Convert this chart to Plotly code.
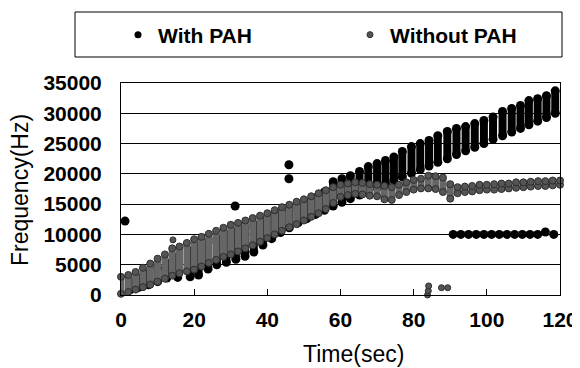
import plotly.graph_objects as go

# ---- With PAH: sweep columns (time, lowest, highest frequency) ----
with_t = [2.6, 5.0, 7.5, 10.0, 12.5, 15.5, 18.9, 21.2, 23.8, 26.2, 28.8, 31.4, 33.9, 36.3,
          38.8, 41.2, 43.6, 46.0, 48.4, 50.8, 53.2, 55.6, 58.0, 60.4, 62.7, 65.2, 67.6,
          70.0, 72.3, 74.6, 76.9, 79.4, 81.8, 84.2, 86.6, 89.2, 91.7, 94.2, 96.7, 99.2,
          101.7, 104.3, 106.8, 109.2, 111.5, 113.9, 116.3, 118.7]
with_lo = [900, 1300, 1700, 2200, 2800, 2900, 3000, 3300, 4300, 5000, 5400, 5900, 6400, 7100,
           8250, 9300, 10300, 11100, 11900, 12600, 13300, 14000, 14700, 15300, 15900, 16500,
           17100, 17700, 18300, 18900, 19500, 20100, 20700, 21300, 21900, 22500, 23200, 23800,
           24400, 25000, 25700, 26300, 26900, 27500, 28100, 28700, 29300, 30000]
with_hi = [2200, 2800, 3600, 4500, 5300, 6300, 7300, 8000, 8700, 9300, 10000, 10500, 11100,
           11700, 12300, 12900, 13500, 14100, 14700, 15300, 16000, 17000, 18700, 19200, 19700,
           20400, 21200, 21700, 22200, 22800, 23700, 24500, 25000, 25500, 26300, 27000, 27500,
           27800, 28300, 28800, 29400, 30300, 30800, 31300, 32100, 32400, 32900, 33700]
# With PAH: flat run near 10 kHz and isolated points
with_flat_t = [90.8, 92.9, 95.0, 97.1, 99.2, 101.3, 103.4, 105.5, 107.6, 109.7, 111.8,
               113.9, 116.0, 118.3]
with_flat_f = [10000, 10000, 10000, 10000, 10000, 10000, 10000, 10000, 10000, 10000, 10000,
               10000, 10400, 10000]
with_out_t = [1.1, 31.2, 45.9, 45.9]
with_out_f = [12200, 14700, 21500, 19200]

# ---- Without PAH: sweep columns ----
wo_t = [0, 2, 4, 6, 8, 10, 12, 14, 16, 18, 20, 22, 24, 26, 28, 30, 32, 34, 36, 38, 40, 42,
        44, 46, 48, 50, 52, 54, 56, 58, 60, 62, 64, 66, 68, 70, 72, 74, 76, 78, 80, 82, 84,
        86, 88, 90, 92, 94, 96, 98, 100, 102, 104, 106, 108, 110, 112, 114, 116, 118, 120]
wo_lo = [200, 500, 900, 1300, 1700, 2200, 2700, 3200, 3600, 3900, 4200, 4700, 5300, 5800,
         6300, 6700, 7200, 7700, 8200, 8800, 9400, 10000, 10600, 11200, 11700, 12300, 12900,
         13500, 14200, 15200, 16200, 16500, 16700, 16600, 16400, 16300, 15800, 15700, 16500,
         17000, 17400, 17600, 17600, 17500, 17000, 15900, 16800, 17000, 17100, 17300, 17400,
         17400, 17500, 17600, 17700, 17800, 17900, 18000, 18000, 18100, 18200]
wo_hi = [3000, 3300, 3800, 4500, 5200, 6000, 6700, 7700, 8000, 8600, 9200, 9600, 10100,
         10600, 11100, 11600, 11900, 12300, 12700, 13100, 13500, 14000, 14500, 14900, 15400,
         15800, 16300, 16800, 17300, 17800, 18200, 18400, 18600, 18500, 18300, 18200, 18000,
         17800, 18200, 18600, 19000, 19200, 19700, 19600, 19400, 18300, 17800, 17900, 18000,
         18200, 18200, 18300, 18400, 18400, 18600, 18600, 18700, 18800, 18800, 18900, 18900]
wo_extra_t = [14.2, 83.8, 84.0, 84.1, 87.6, 89.3]
wo_extra_f = [9100, 0, 700, 1500, 1200, 1200]

x_ticks = [0, 20, 40, 60, 80, 100, 120]
y_ticks = [0, 5000, 10000, 15000, 20000, 25000, 30000, 35000]


def columns(t, lo, hi):
    xs, ys = [], []
    for a, b, c in zip(t, lo, hi):
        xs += [a, a, None]
        ys += [b, c, None]
    return xs, ys


BLACK = "#000000"
GREY = "#666666"
GREY_M = "#555555"
GREY_E = "#2e2e2e"

fig = go.Figure()

wx, wy = columns(with_t, with_lo, with_hi)
fig.add_trace(go.Scatter(x=wx, y=wy, mode="lines+markers", showlegend=False,
                         line=dict(color=BLACK, width=8),
                         marker=dict(color=BLACK, size=9), cliponaxis=False))

gx, gy = columns(wo_t, wo_lo, wo_hi)
fig.add_trace(go.Scatter(x=gx, y=gy, mode="lines+markers", showlegend=False,
                         line=dict(color=GREY, width=7),
                         marker=dict(color=GREY_M, size=7,
                                     line=dict(color=GREY_E, width=1)),
                         cliponaxis=False))
fig.add_trace(go.Scatter(x=wo_extra_t, y=wo_extra_f, mode="markers", showlegend=False,
                         marker=dict(color=GREY_M, size=6,
                                     line=dict(color=GREY_E, width=1)),
                         cliponaxis=False))

fig.add_trace(go.Scatter(x=with_flat_t, y=with_flat_f, mode="markers", showlegend=False,
                         marker=dict(color=BLACK, size=9), cliponaxis=False))
fig.add_trace(go.Scatter(x=with_out_t, y=with_out_f, mode="markers", showlegend=False,
                         marker=dict(color=BLACK, size=9), cliponaxis=False))

# legend entries
fig.add_trace(go.Scatter(x=[None], y=[None], mode="markers", name="With PAH",
                         marker=dict(color=BLACK, size=7), legend="legend"))
fig.add_trace(go.Scatter(x=[None], y=[None], mode="markers", name="Without PAH",
                         marker=dict(color=GREY_M, size=6,
                                     line=dict(color=GREY_E, width=1)),
                         legend="legend2"))

# page body has an 8px margin; lay out in page pixels and shift by it
OFF = 8
W, H = 580 - OFF, 368 - OFF
L, T, PW, PH = 121 - OFF, 83 - OFF, 439, 212


def px2x(px):
    return (px - OFF - L) / PW


def py2y(py):
    return (T + PH - (py - OFF)) / PH


FONT = "Liberation Sans, Arial, sans-serif"
TICKF = dict(size=21, family=FONT, weight="bold", color="black")
LEGF = dict(size=21, family=FONT, weight="bold", color="black")

fig.update_layout(
    width=W, height=H,
    margin=dict(l=L, r=W - L - PW, t=T, b=H - T - PH, autoexpand=False),
    paper_bgcolor="white", plot_bgcolor="white",
    font=dict(family=FONT, size=22, color="black"),
    xaxis=dict(range=[0, 120], tickvals=x_ticks, ticktext=[str(v) for v in x_ticks],
               showgrid=False, zeroline=False, showline=True, linecolor="black",
               linewidth=1, mirror=True, ticks="inside", ticklen=6, tickcolor="black",
               tickfont=TICKF, ticklabelstandoff=6, automargin=False),
    yaxis=dict(range=[0, 35000], tickvals=y_ticks, ticktext=[str(v) for v in y_ticks],
               showgrid=True, gridcolor="black", gridwidth=1, zeroline=False,
               showline=True, linecolor="black", linewidth=1, mirror=True,
               ticks="", tickfont=TICKF, ticklabelstandoff=14, automargin=False),
    legend=dict(x=px2x(118), y=py2y(35), xanchor="left", yanchor="middle",
                orientation="h", bgcolor="rgba(0,0,0,0)", borderwidth=0, font=LEGF),
    legend2=dict(x=px2x(350), y=py2y(35), xanchor="left", yanchor="middle",
                 orientation="h", bgcolor="rgba(0,0,0,0)", borderwidth=0, font=LEGF),
    shapes=[dict(type="rect", xref="paper", yref="paper",
                 x0=px2x(75), x1=px2x(562), y0=py2y(57), y1=py2y(12),
                 line=dict(color="black", width=1), fillcolor="rgba(0,0,0,0)")],
    annotations=[
        dict(text="Frequency(Hz)", xref="paper", yref="paper", x=px2x(20), y=py2y(190),
             xanchor="center", yanchor="middle", textangle=-90, showarrow=False,
             font=dict(size=23, family=FONT)),
        dict(text="Time(sec)", xref="paper", yref="paper", x=px2x(353), y=py2y(354),
             xanchor="center", yanchor="middle", showarrow=False,
             font=dict(size=23, family=FONT)),
    ],
)

fig.write_html("out.html")
